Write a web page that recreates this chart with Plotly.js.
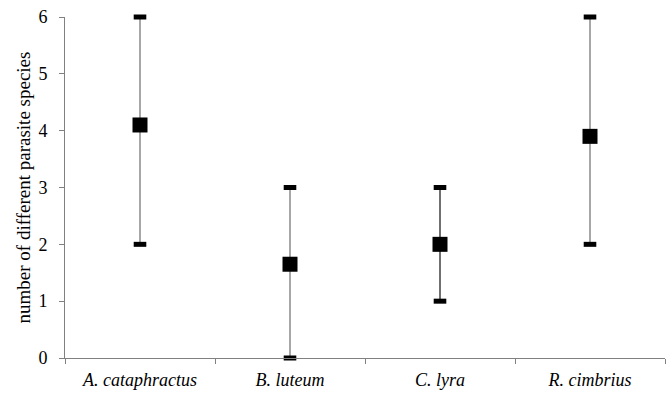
<!DOCTYPE html>
<html>
<head>
<meta charset="utf-8">
<script src="https://cdn.plot.ly/plotly-3.0.1.min.js"></script>
<style>html,body{margin:0;padding:0;background:#fff;}#chart{width:667px;height:395px;}</style>
</head>
<body>
<div id="chart"></div>
<script>
const categories = ['A. cataphractus', 'B. luteum', 'C. lyra', 'R. cimbrius'];
const meanValues = [4.1, 1.65, 2.0, 3.9];
const minValues = [2, 0, 1, 2];
const maxValues = [6, 3, 3, 6];
const stemColors = ['#8a8a8a', '#8a8a8a', '#404040', '#8a8a8a'];
const yTickValues = [0, 1, 2, 3, 4, 5, 6];
const yTitle = 'number of different parasite species';

const FONT = '"Times New Roman", Times, "Liberation Serif", serif';

const traces = [];
categories.forEach(function (c, i) {
  traces.push({
    type: 'scatter', mode: 'lines',
    x: [c, c], y: [minValues[i], maxValues[i]],
    line: {color: stemColors[i], width: 1.5},
    hoverinfo: 'skip', showlegend: false, cliponaxis: false
  });
});
traces.push({
  type: 'scatter', mode: 'markers',
  x: categories.concat(categories),
  y: minValues.concat(maxValues),
  marker: {symbol: 'line-ew', size: 9, color: '#000', line: {color: '#000', width: 5}},
  showlegend: false, cliponaxis: false
});
traces.push({
  type: 'scatter', mode: 'markers',
  x: categories, y: meanValues,
  marker: {symbol: 'square', size: 15, color: '#000'},
  showlegend: false, cliponaxis: false
});

const layout = {
  width: 667, height: 395,
  margin: {l: 65, r: 2, t: 17, b: 37},
  paper_bgcolor: '#fff', plot_bgcolor: '#fff',
  font: {family: FONT, size: 16, color: '#000'},
  showlegend: false,
  xaxis: {
    type: 'category', range: [-0.5, 3.5],
    tickson: 'boundaries', ticks: 'outside', ticklen: 5, tickcolor: '#808080',
    showline: true, linecolor: '#808080', linewidth: 1,
    showgrid: false, zeroline: false,
    ticklabelstandoff: 5,
    tickfont: {family: FONT, size: 18, style: 'italic', color: '#000'},
    fixedrange: true
  },
  yaxis: {
    range: [0, 6], tickvals: yTickValues, ticktext: yTickValues.map(String),
    ticks: 'outside', ticklen: 5, tickcolor: '#808080',
    showline: true, linecolor: '#808080', linewidth: 1,
    showgrid: false, zeroline: false,
    ticklabelstandoff: 8,
    tickfont: {family: FONT, size: 18, color: '#000'},
    title: {text: yTitle, font: {family: FONT, size: 19, color: '#000'}, standoff: 2},
    fixedrange: true
  }
};
Plotly.newPlot('chart', traces, layout, {displayModeBar: false, staticPlot: true});
</script>
</body>
</html>
